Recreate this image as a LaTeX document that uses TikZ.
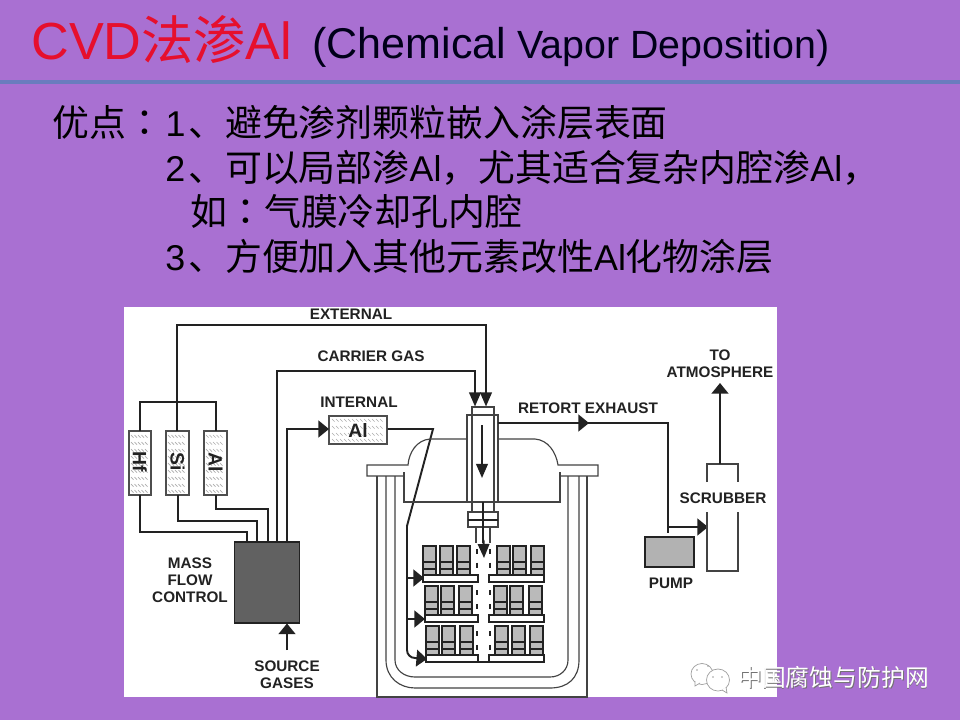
\documentclass[tikz,border=0pt]{standalone}
\usepackage{fontspec}
\setmainfont{Liberation Sans}
\newfontfamily\cjk{Noto Sans CJK SC}
\newfontfamily\cjkt{Noto Sans CJK TC}
\usetikzlibrary{arrows.meta}
\definecolor{bgp}{HTML}{A970D2}
\definecolor{rulec}{HTML}{6A7CBE}
\definecolor{redt}{HTML}{E60F2D}
\definecolor{lnk}{HTML}{222222}
\tikzset{
 px/.style={x=0.02cm,y=-0.02cm},
 wire/.style={draw=lnk,line width=1.1pt},
 thin wall/.style={draw=lnk!85!white,line width=0.65pt},
 tip/.style={-{Triangle[length=6pt,width=9.5pt]}},
 talltip/.style={-{Triangle[length=8pt,width=6.6pt]}},
 lab/.style={font=\fontsize{8.7}{9.8}\selectfont\bfseries,text=lnk,align=center,inner sep=0pt},
 canbox/.style={draw=lnk!80!white,line width=0.8pt,fill=white},
 hatchline/.style={draw=gray!65,line width=0.4pt},
 cantext/.style={font=\fontsize{11}{12}\selectfont\bfseries,text=lnk,inner sep=0pt},
 block/.style={draw=lnk,line width=0.6pt,fill=black!27},
 shelf/.style={draw=lnk,line width=0.7pt,fill=white},
 body/.style={font=\cjk\fontsize{21}{24}\selectfont,text=black,anchor=base west,inner sep=0pt},
}
\newcommand{\lat}[1]{{\fontspec{Liberation Sans}\fontsize{20.4}{24}\selectfont #1}}
\begin{document}
\begin{tikzpicture}[px]
\useasboundingbox (0,0) rectangle (960,720);
\fill[bgp] (0,0) rectangle (960,720);
\fill[rulec] (0,80) rectangle (960,84);
\node[font=\cjk\fontsize{29.7}{30}\selectfont,text=redt,anchor=base west,inner sep=0pt] (title) at (31,59) {\fontspec{Liberation Sans}CVD\cjk 法渗\fontspec{Liberation Sans}Al};
\node[font=\fontsize{24.5}{26}\selectfont,text=black!90!blue,anchor=base west,inner sep=0pt] (sub) at (312,58.5) {(Chemical};
\node[font=\fontsize{22.4}{26}\selectfont,text=black!90!blue,anchor=base west,inner sep=0pt] (sub2) at (517,58.5) {Vapor Deposition)};
\node[body] (t1) at (52,136) {优点{\cjkt ：}\kern1.5pt\lat{1}\kern1.5pt、避免渗剂颗粒嵌入涂层表面};
\node[body] (t2) at (165,181) {\lat{2}\kern1.7pt、可以局部渗\lat{Al}，尤其适合复杂内腔渗\lat{Al}，};
\node[body] (t3) at (190,225) {如{\cjkt ：}气膜冷却孔内腔};
\node[body] (t4) at (165,270) {\lat{3}\kern1.7pt、方便加入其他元素改性\lat{Al}化物涂层};
% white panel
\fill[white] (124,307) rectangle (777,697);
% canisters
\foreach \nm/\a/\b/\lb in {hf/129/151/Hf,si/166/189/Si,al/204/227/Al}{
 \path[canbox] (\a,431) rectangle (\b,495);
 \foreach \yy in {435,442,449,456,463,470,477,484,490}{
  \foreach \dx in {2,5.5,...,18}{
   \draw[hatchline] (\a+\dx,\yy) -- ++(2.6,2.6);
  }
 }
 \node[cantext,rotate=-90] (\nm) at ({(\a+\b)/2},462) {\lb};
}
% mass flow
\node[draw=lnk,line width=0.8pt,fill=black!62,minimum width=1.3cm,minimum height=1.62cm,inner sep=0pt] (mfc) at (267,582.5) {};
\coordinate (cart) at (475,371);
\coordinate (extt) at (486,325);
\draw[wire] (140,431) |- (216,402) -- (216,431);
\draw[wire] (177,431) -- (177,325) -- (extt) -- (486,395);
\draw[wire,talltip] (486,392) -- (486,406.5);
\draw[wire] (277,542) -- (277,371) -- (cart) -- (475,395);
\draw[wire,talltip] (475,392) -- (475,406.5);
\draw[wire] (140,495) -- (140,532) -- (247,532) -- (247,542);
\draw[wire] (178,495) -- (178,521) -- (257,521) -- (257,542);
\draw[wire] (216,495) -- (216,509) -- (268,509) -- (268,542);
% internal Al
\node[canbox,minimum width=1.16cm,minimum height=0.56cm,inner sep=0pt] (ial) at (358,430) {};
\foreach \yy in {419,426,433,439}{
 \foreach \xx in {332,336,...,382}{
  \draw[hatchline] (\xx,\yy) -- ++(2.6,2.6);
 }
}
\node[font=\fontsize{11}{12}\selectfont\bfseries,text=lnk,inner sep=0pt] at (358,430) {Al};
\draw[wire,tip] (287,542) -- (287,429) -- (329,429);
\coordinate (kink) at (433,429);
\coordinate (kink2) at (407,526);
\draw[wire] (ial.east |- kink) -- (kink) -- (kink2);
\draw[wire] (kink2) -- (407,650) to[out=-90,in=180] (415,658);
\foreach \yy/\xx in {578/424,619/425}{\draw[wire,tip] (407,\yy) -- (\xx,\yy);}
\draw[wire,tip] (415,658) -- (427,659);
% source
\coordinate (src) at (287,650);
\draw[wire,tip] (src) -- (287,623.5);
% furnace walls
\draw[thin wall] (467,439) -- (430,439) .. controls (417,440) and (409,452) .. (408,465) -- (367,465) -- (367,476) -- (404,476);
\draw[thin wall] (498,439) -- (535,439) .. controls (548,440) and (556,452) .. (558,465) -- (598,465) -- (598,476) -- (560,476);
\draw[thin wall] (404,472) -- (404,502) -- (467,502);
\draw[thin wall] (560,472) -- (560,502) -- (498,502);
\draw[thin wall] (377,476) -- (377,697) -- (587,697) -- (587,476);
\draw[thin wall] (386,476) -- (386,660) .. controls (386,678) and (400,688) .. (415,688) -- (550,688) .. controls (568,688) and (579,678) .. (579,660) -- (579,476);
\draw[thin wall] (395,476) -- (395,660) .. controls (395,670) and (404,677) .. (415,677) -- (550,677) .. controls (560,677) and (568,670) .. (568,660) -- (568,476);
% retort tube
\draw[thin wall] (467,415) rectangle (498,502);
\draw[thin wall] (472,407) rectangle (494,512);
\draw[thin wall] (468,512) rectangle (498,527);
\draw[wire] (468,520) -- (498,520);
\draw[thin wall] (476,527) -- (476,543);
\draw[thin wall] (490,527) -- (490,543);
\draw[wire] (483,502) -- (483,543);
\draw[wire,talltip] (482,425) -- (482,478);
% centre dashes
\draw[line width=1pt,draw=lnk,dash pattern=on 2.8pt off 5pt] (477,549) -- (477,650);
\draw[line width=1pt,draw=lnk,dash pattern=on 2.8pt off 5pt] (490,549) -- (490,650);
\draw[wire,talltip] (483.5,540) -- (484,558);
% trays
\foreach \ya/\xa/\xb/\xc/\xd/\xe/\xf/\xs in {546/423/440/457/497/513/531/423,586/425/441/459/494/510/529/425,626/426/442/460/495/512/530/426}{
 \foreach \xx in {\xa,\xb,\xc,\xd,\xe,\xf}{
  \draw[block] (\xx,\ya) rectangle (\xx+13,\ya+29);
  \draw[draw=lnk,line width=0.6pt] (\xx,\ya+16) -- (\xx+13,\ya+16) (\xx,\ya+23) -- (\xx+13,\ya+23);
 }
 \draw[shelf] (\xs,\ya+29) rectangle (478,\ya+36);
 \draw[shelf] (489,\ya+29) rectangle (544,\ya+36);
}
\draw[wire] (478,655) -- (478,662) -- (489,662) -- (489,655);
% exhaust
\coordinate (ex) at (498,423);
\draw[wire] (ex) -- (668,423) -- (668,533);
\draw[wire,tip] (ex) -- (589,423);
\draw[wire,tip] (668,527) -- (708,527);
\node[draw=lnk,line width=0.8pt,fill=black!30,minimum width=0.98cm,minimum height=0.6cm,inner sep=0pt] (pump) at (669.5,552) {};
\draw[thin wall] (707,482) -- (707,464) -- (738,464) -- (738,482);
\draw[thin wall] (707,512) -- (707,571) -- (738,571) -- (738,512);
\coordinate (sct) at (720,464);
\draw[wire,tip] (sct) -- (720,383);
% labels
\node[lab] at (351,314) {EXTERNAL};
\node[lab] at (371,356) {CARRIER GAS};
\node[lab] at (359,402) {INTERNAL};
\node[lab] at (588,408) {RETORT EXHAUST};
\node[lab] at (720,364) {TO\\ATMOSPHERE};
\node[lab] at (723,498) {SCRUBBER};
\node[lab] at (671,583) {PUMP};
\node[lab] at (190,580) {MASS\\FLOW\\CONTROL};
\node[lab] at (287,675) {SOURCE\\GASES};
% watermark icon
\begin{scope}[draw=gray!75,line width=0.4pt]
\draw[fill=white] (702,674) ellipse (11 and 10.5);
\draw[fill=white] (695,681) -- (695,686) -- (700,683);
\draw[fill=white] (718,680) ellipse (11.5 and 11);
\draw[fill=white] (722,690) -- (727,693) -- (726,687);
\fill[gray!75] (697,670) circle (0.8) (708,666) circle (0.8) (713,677) circle (0.8) (722,677) circle (0.8);
\end{scope}
% watermark
\node[font=\cjk\fontsize{13.55}{14}\selectfont,text=black!55,inner sep=0pt,anchor=west] (wms) at (738.8,678.6) {中国腐蚀与防护网};
\node[font=\cjk\fontsize{13.55}{14}\selectfont,text=white,inner sep=0pt,anchor=west] (wm) at (738,677.6) {中国腐蚀与防护网};
\end{tikzpicture}
\end{document}
